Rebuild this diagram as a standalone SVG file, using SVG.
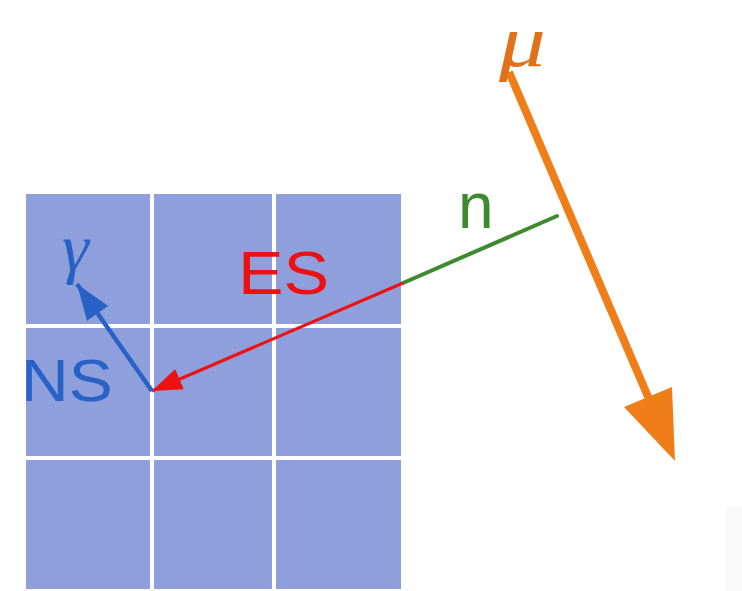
<svg xmlns="http://www.w3.org/2000/svg" width="742" height="591" viewBox="0 0 742 591">
<style>
.cell{fill:#8f9fdb}
.lbl{font-family:"Liberation Sans",Arial,sans-serif}
.greek{font-family:"Liberation Serif","Times New Roman",serif;font-style:italic}
</style>
<defs>
<marker id="redHead" markerUnits="userSpaceOnUse" markerWidth="34" markerHeight="24" refX="30" refY="11" orient="auto" viewBox="0 0 34 24">
<path d="M0,0 L30,11 L0,22 z" fill="#ee1111"/>
</marker>
<marker id="blueHead" markerUnits="userSpaceOnUse" markerWidth="40" markerHeight="30" refX="36" refY="13" orient="auto" viewBox="0 0 40 30">
<path d="M0,0 L36,13 L0,26 z" fill="#2962c6"/>
</marker>
</defs>
<rect x="726" y="506" width="16" height="85" fill="#f8f8f8"/>
<g id="grid">
<rect class="cell" x="26" y="194" width="124" height="130"/>
<rect class="cell" x="154" y="194" width="118" height="130"/>
<rect class="cell" x="276" y="194" width="125" height="130"/>
<rect class="cell" x="26" y="328" width="124" height="128"/>
<rect class="cell" x="154" y="328" width="118" height="128"/>
<rect class="cell" x="276" y="328" width="125" height="128"/>
<rect class="cell" x="26" y="460" width="124" height="129"/>
<rect class="cell" x="154" y="460" width="118" height="129"/>
<rect class="cell" x="276" y="460" width="125" height="129"/>
</g>
<g id="connectors">
<line id="n-line" x1="557" y1="216" x2="403" y2="283" stroke="#3d8b2e" stroke-width="4" stroke-linecap="round"/>
<line id="es-line" x1="403" y1="283" x2="152" y2="391" stroke="#ee1111" stroke-width="3" marker-end="url(#redHead)"/>
<line id="ns-line" x1="152" y1="391" x2="77" y2="284" stroke="#2962c6" stroke-width="4.5" marker-end="url(#blueHead)"/>
<g id="muon">
<line x1="509" y1="72" x2="649" y2="399" stroke="#ef7d18" stroke-width="8"/>
<path d="M675,461 L672,387 L624,407 z" fill="#ef7d18"/>
</g>
</g>
<g id="labels">
<text id="mu" class="greek" font-size="73" fill="#e0731a" transform="translate(499,66) scale(1.28,1)">μ</text>
<text id="gamma" class="greek" x="62" y="271" font-size="68" fill="#2962c6">γ</text>
<text id="NS" class="lbl" font-size="60" fill="#2962c6" transform="translate(21,401) scale(1.1,1)">NS</text>
<text id="ES" class="lbl" font-size="61" fill="#ee1111" transform="translate(238,294) scale(1.12,1)">ES</text>
<text id="n" class="lbl" x="458" y="228" font-size="64" fill="#3d8b2e">n</text>
</g>
</svg>
